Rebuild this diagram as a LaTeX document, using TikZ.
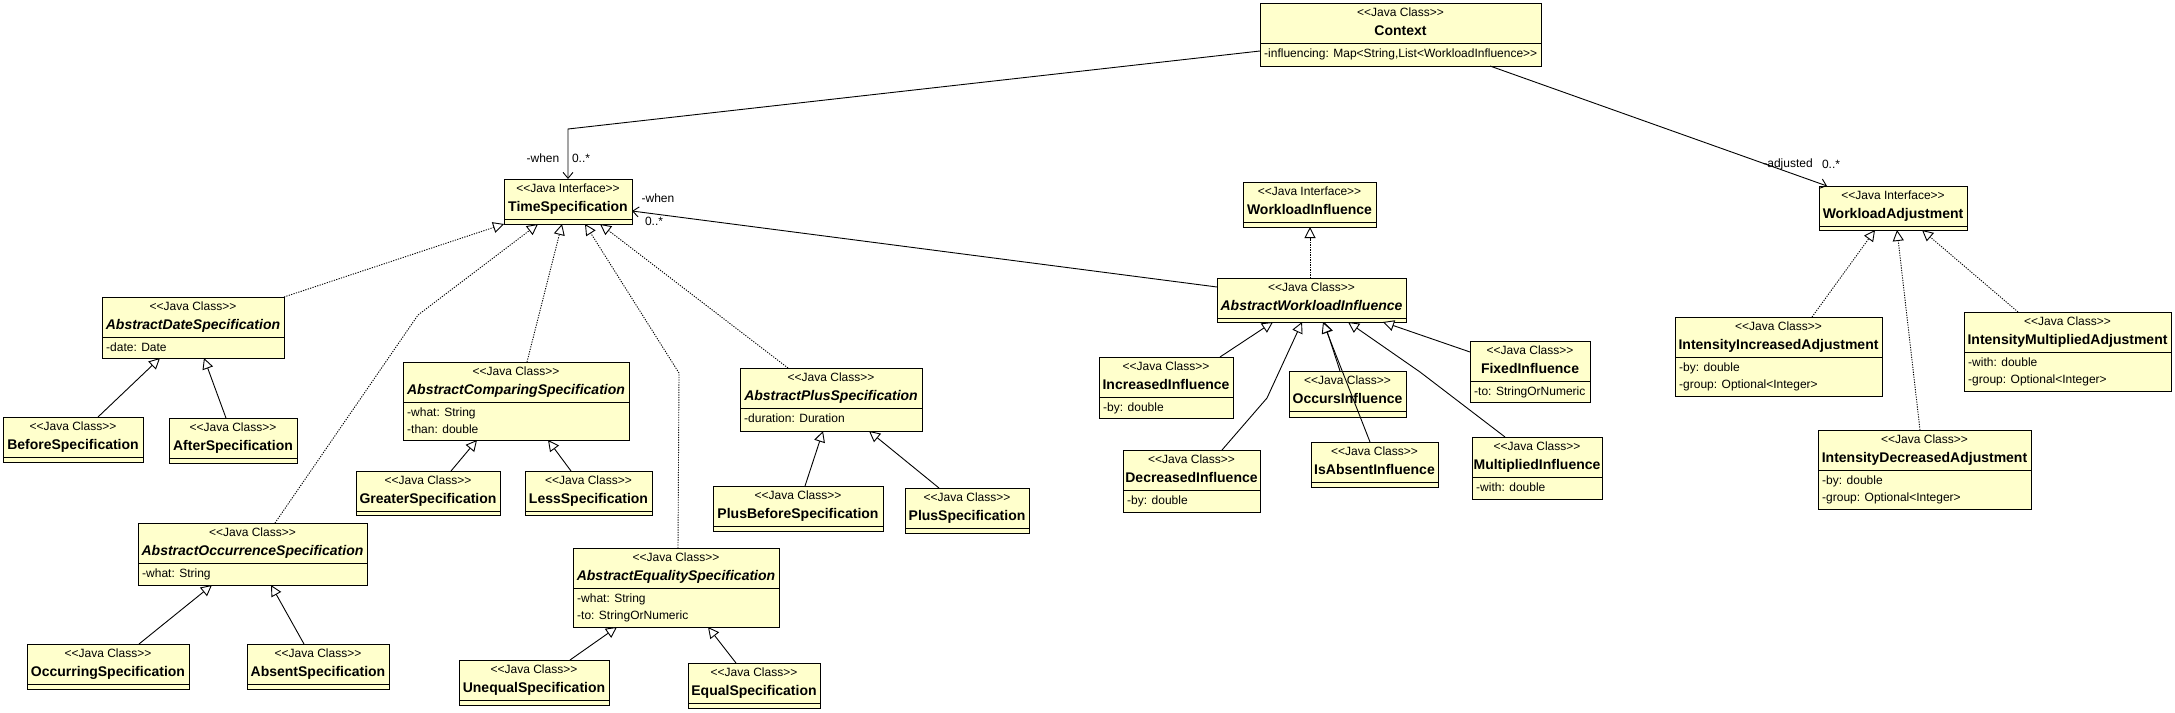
\documentclass[tikz,border=0pt]{standalone}
\usepackage{fontspec}
\setmainfont{Liberation Sans}[Ligatures=TeXOff]
\usetikzlibrary{arrows.meta,calc}
\definecolor{umlfill}{RGB}{255,255,204}
\newcommand{\st}[1]{<\kern0pt<#1>\kern0pt>}
\newcommand{\umlclass}[7]{%
  \node[classbox, minimum width={(#4-#2)*1pt}, minimum height={(#5-#3)*1pt}] (#1) at ({(#2+#4)/2},{(#3+#5)/2}) {};
  \draw[line width=1pt] (#2,#3+40) -- (#4,#3+40);
  \node[stereo] (#1-st) at ({(#2+#4)/2},#3+13.5) {\st{#6}};
  \node[ctitle] (#1-t) at ({(#2+#4)/2},#3+32) {#7};
}
\newcommand{\umlattr}[3]{\node[attr] (#1-a#2) at ($(#1.north west)+(4,{54.5+17*(#2-1)})$) {#3};}
\tikzset{
  classbox/.style={draw, line width=1pt, fill=umlfill, rectangle, inner sep=0pt, outer sep=0pt},
  stereo/.style={font=\fontsize{12}{14}\selectfont, anchor=base, inner sep=0pt},
  ctitle/.style={font=\bfseries\fontsize{14}{16}\selectfont, anchor=base, inner sep=0pt},
  attr/.style={font=\fontsize{12}{14}\selectfont, anchor=base west, inner sep=0pt},
  gen/.style={line width=0.9pt, -{Triangle[length=11pt,width=11pt,fill=white,line width=0.9pt]}},
  real/.style={gen, dash pattern=on 1.2pt off 1.3pt},
  assoc/.style={line width=0.9pt, -{Straight Barb[length=6pt,width=10pt,line width=0.9pt]}},
  role/.style={font=\fontsize{12}{14}\selectfont, inner sep=0pt},
}
\begin{document}
\begin{tikzpicture}[x=1pt,y=-1pt]
\fill[white] (0,0) rectangle (2175,712);
\useasboundingbox (0,0) rectangle (2175,712);

% ---- classes ----
\umlclass{ctx}{1260}{3}{1541}{66}{Java Class}{Context}
\umlattr{ctx}{1}{-influencing: Map<String,List<WorkloadInfluence>\kern0pt>}
\umlclass{ts}{504}{179}{632}{224}{Java Interface}{TimeSpecification}
\umlclass{wi}{1243}{182}{1376}{227}{Java Interface}{WorkloadInfluence}
\umlclass{awi}{1217}{278}{1406}{322}{Java Class}{\itshape AbstractWorkloadInfluence}
\umlclass{inc}{1099}{357}{1233}{418}{Java Class}{IncreasedInfluence}
\umlattr{inc}{1}{-by: double}
\umlclass{dec}{1123}{450}{1260}{512}{Java Class}{DecreasedInfluence}
\umlattr{dec}{1}{-by: double}
\umlclass{occ}{1289}{371}{1406}{417}{Java Class}{OccursInfluence}
\umlclass{isa}{1311}{442}{1438}{487}{Java Class}{IsAbsentInfluence}
\umlclass{fix}{1470}{341}{1590}{402}{Java Class}{FixedInfluence}
\umlattr{fix}{1}{-to: StringOrNumeric}
\umlclass{mul}{1472}{437}{1602}{499}{Java Class}{MultipliedInfluence}
\umlattr{mul}{1}{-with: double}
\umlclass{wa}{1819}{186}{1967}{230}{Java Interface}{WorkloadAdjustment}
\umlclass{iia}{1675}{317}{1882}{396}{Java Class}{IntensityIncreasedAdjustment}
\umlattr{iia}{1}{-by: double}
\umlattr{iia}{2}{-group: Optional<Integer>}
\umlclass{ima}{1964}{312}{2171}{391}{Java Class}{IntensityMultipliedAdjustment}
\umlattr{ima}{1}{-with: double}
\umlattr{ima}{2}{-group: Optional<Integer>}
\umlclass{ida}{1818}{430}{2031}{509}{Java Class}{IntensityDecreasedAdjustment}
\umlattr{ida}{1}{-by: double}
\umlattr{ida}{2}{-group: Optional<Integer>}
\umlclass{ads}{102}{297}{284}{358}{Java Class}{\itshape AbstractDateSpecification}
\umlattr{ads}{1}{-date: Date}
\umlclass{bef}{3}{417}{143}{462}{Java Class}{BeforeSpecification}
\umlclass{aft}{169}{418}{297}{463}{Java Class}{AfterSpecification}
\umlclass{acs}{403}{362}{629}{440}{Java Class}{\itshape AbstractComparingSpecification}
\umlattr{acs}{1}{-what: String}
\umlattr{acs}{2}{-than: double}
\umlclass{gre}{356}{471}{500}{515}{Java Class}{GreaterSpecification}
\umlclass{les}{525}{471}{652}{515}{Java Class}{LessSpecification}
\umlclass{aes}{573}{548}{779}{627}{Java Class}{\itshape AbstractEqualitySpecification}
\umlattr{aes}{1}{-what: String}
\umlattr{aes}{2}{-to: StringOrNumeric}
\umlclass{une}{459}{660}{609}{705}{Java Class}{UnequalSpecification}
\umlclass{equ}{688}{663}{820}{708}{Java Class}{EqualSpecification}
\umlclass{aps}{740}{368}{922}{431}{Java Class}{\itshape AbstractPlusSpecification}
\umlattr{aps}{1}{-duration: Duration}
\umlclass{pbs}{713}{486}{883}{531}{Java Class}{PlusBeforeSpecification}
\umlclass{pls}{905}{488}{1029}{533}{Java Class}{PlusSpecification}
\umlclass{aos}{138}{523}{367}{585}{Java Class}{\itshape AbstractOccurrenceSpecification}
\umlattr{aos}{1}{-what: String}
\umlclass{ocs}{27}{644}{189}{689}{Java Class}{OccurringSpecification}
\umlclass{abs}{247}{644}{389}{689}{Java Class}{AbsentSpecification}

% ---- bend points ----
\coordinate (ctxbend) at (568,129);
\coordinate (aosbend) at (418,315);
\coordinate (aesbend) at (679,373);
\coordinate (decbend) at (1267,398);
\coordinate (mulbend) at (1420,372);

% ---- associations ----
\draw[assoc] ($(ctx.north west)+(0,48)$) -- (ctxbend) -- ($(ts.north west)+(64,0)$);
\draw[assoc] ($(ctx.south west)+(230,0)$) -- ($(wa.north west)+(8,0)$);
\draw[assoc] ($(awi.north west)+(0,9)$) -- ($(ts.north east)+(0,32)$);
\node[role] (r1) at (543,158) {-when};
\node[role] (r2) at (581,158) {0..*};
\node[role] (r3) at (658,198) {-when};
\node[role] (r4) at (654,221) {0..*};
\node[role] (r5) at (1788,164) {-adjusted};
\node[role] (r6) at (1831,164) {0..*};

% ---- realizations ----
\draw[real] (ads.north east) -- (ts.south west);
\draw[real] ($(aos.north west)+(137,0)$) -- (aosbend) -- ($(ts.south west)+(34,0)$);
\draw[real] ($(acs.north west)+(124,0)$) -- ($(ts.south west)+(58,0)$);
\draw[real] ($(aes.north west)+(105,0)$) -- (aesbend) -- ($(ts.south west)+(81,0)$);
\draw[real] ($(aps.north west)+(48,0)$) -- ($(ts.south west)+(96,0)$);
\draw[real] ($(awi.north west)+(93,0)$) -- ($(wi.south west)+(67,0)$);
\draw[real] ($(iia.north west)+(137,0)$) -- ($(wa.south west)+(56,0)$);
\draw[real] ($(ida.north west)+(102,0)$) -- ($(wa.south west)+(78,0)$);
\draw[real] ($(ima.north west)+(54,0)$) -- ($(wa.south west)+(103,0)$);

% ---- generalizations ----
\draw[gen] ($(bef.north west)+(95,0)$) -- ($(ads.south west)+(58,0)$);
\draw[gen] ($(aft.north west)+(57,0)$) -- ($(ads.south west)+(102,0)$);
\draw[gen] ($(gre.north west)+(95,0)$) -- ($(acs.south west)+(74,0)$);
\draw[gen] ($(les.north west)+(46,0)$) -- ($(acs.south west)+(145,0)$);
\draw[gen] ($(une.north west)+(111,0)$) -- ($(aes.south west)+(44,0)$);
\draw[gen] ($(equ.north west)+(48,0)$) -- ($(aes.south west)+(135,0)$);
\draw[gen] ($(pbs.north west)+(92,0)$) -- ($(aps.south west)+(83,0)$);
\draw[gen] ($(pls.north west)+(34,0)$) -- ($(aps.south west)+(129,0)$);
\draw[gen] ($(ocs.north west)+(112,0)$) -- ($(aos.south west)+(74,0)$);
\draw[gen] ($(abs.north west)+(57,0)$) -- ($(aos.south west)+(133,0)$);
\draw[gen] ($(inc.north west)+(121,0)$) -- ($(awi.south west)+(56,0)$);
\draw[gen] ($(dec.north west)+(99,0)$) -- (decbend) -- ($(awi.south west)+(85,0)$);
\draw[gen] ($(occ.north west)+(51,0)$) -- ($(awi.south west)+(107,0)$);
\draw[gen] ($(isa.north west)+(59,0)$) -- ($(awi.south west)+(106,0)$);
\draw[gen] ($(mul.north west)+(33,0)$) -- (mulbend) -- ($(awi.south west)+(131,0)$);
\draw[gen] ($(fix.north west)+(0,11)$) -- ($(awi.south west)+(166,0)$);
\end{tikzpicture}
\end{document}
